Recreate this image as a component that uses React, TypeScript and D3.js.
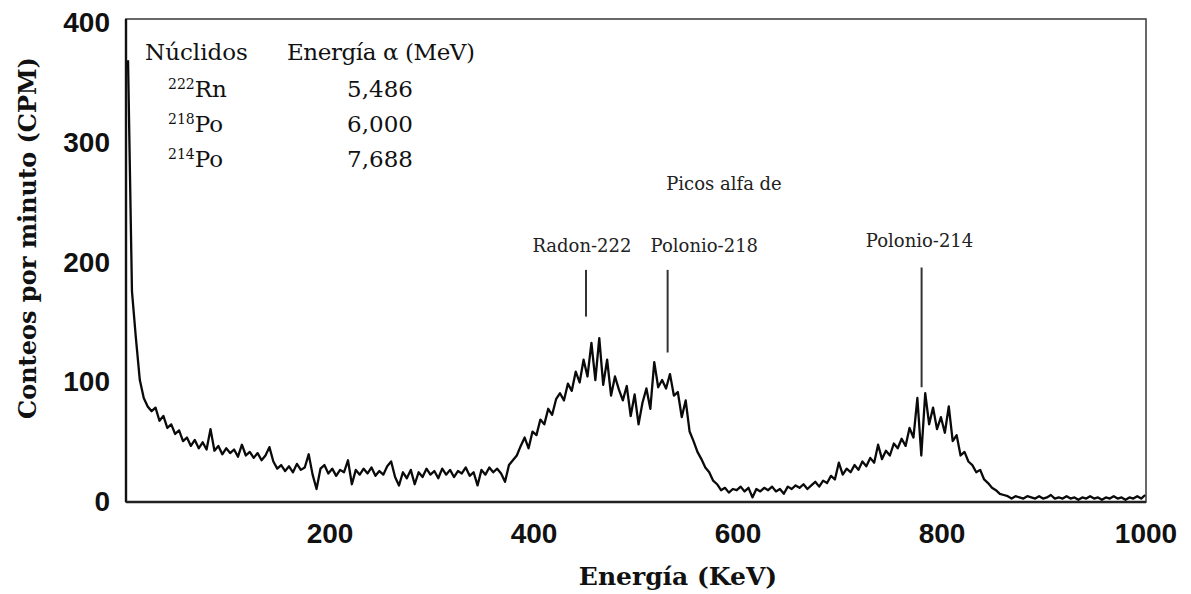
import React from 'react'
import * as d3 from 'd3'

// counts per channel (CPM), one value per channel
const counts = [
    368, 175, 136, 101, 86, 79, 75, 78, 67, 71,
    61, 64, 56, 59, 50, 53, 46, 51, 44, 49,
    43, 60, 42, 46, 39, 44, 40, 43, 37, 47,
    38, 41, 36, 40, 34, 38, 45, 33, 27, 30,
    25, 29, 24, 31, 26, 28, 39, 22, 10, 27,
    30, 23, 27, 21, 26, 24, 34, 14, 26, 22,
    27, 23, 28, 21, 25, 22, 29, 33, 20, 13,
    24, 19, 26, 14, 24, 20, 27, 22, 25, 19,
    27, 22, 26, 20, 25, 23, 28, 21, 24, 13,
    26, 22, 28, 24, 27, 23, 16, 30, 34, 38,
    46, 53, 44, 58, 55, 68, 64, 77, 72, 85,
    90, 84, 98, 92, 108, 99, 118, 104, 132, 101,
    136, 97, 118, 88, 104, 93, 84, 96, 71, 89,
    64, 82, 94, 77, 116, 95, 101, 94, 106, 88,
    91, 70, 84, 58, 50, 41, 35, 28, 24, 17,
    14, 9, 11, 7, 10, 9, 12, 8, 11, 3,
    10, 8, 11, 9, 12, 8, 10, 6, 12, 10,
    13, 11, 14, 10, 13, 16, 12, 17, 15, 21,
    18, 32, 22, 27, 24, 30, 26, 33, 29, 36,
    32, 47, 35, 42, 38, 48, 44, 52, 46, 61,
    53, 86, 38, 90, 64, 78, 60, 70, 57, 79,
    50, 55, 38, 41, 33, 30, 24, 26, 18, 15,
    11, 9, 6, 5, 4, 2, 4, 3, 2, 4,
    3, 2, 4, 2, 3, 5, 2, 3, 2, 4,
    2, 3, 1, 3, 2, 4, 2, 3, 1, 3,
    2, 4, 2, 3, 1, 3, 2, 4, 2, 5
]
const channelStart = 2     // keV of first channel
const channelWidth = 3.85  // keV per channel

const xTicks = [200, 400, 600, 800, 1000]
const yTicks = [0, 100, 200, 300, 400]

const nuclides = ['222', '218', '214']
const elements = ['Rn', 'Po', 'Po']
const alphaEnergies = ['5,486', '6,000', '7,688']

const peakLabels = ['Radon-222', 'Polonio-218', 'Polonio-214']
const peakLabelX = [447, 567, 778]     // keV
const peakLabelY = [208, 208, 212]     // CPM
const markerX = [451, 531, 780]        // keV
const markerTop = [193, 193, 195]      // CPM
const markerBottom = [154, 124, 95]    // CPM

const W = 1191, H = 594
const plot = { left: 126, right: 1146, top: 19, bottom: 502 }

const serif = "'DejaVu Serif', serif"
const sans = "'Liberation Sans', Arial, sans-serif"

const x = d3.scaleLinear().domain([0, 1000]).range([plot.left, plot.right])
const y = d3.scaleLinear().domain([0, 400]).range([501, 22])

const Spectrum = () => {
    const pts = counts.map((c, i) => [channelStart + i * channelWidth, c])
    const line = d3.line()
        .x(d => x(d[0]))
        .y(d => y(d[1]))
    return <path d={line(pts)} fill="none" stroke="#0a0a0a" strokeWidth={2.3} strokeLinejoin="round" />
}

const Frame = () => (
    <g>
        <rect x={plot.left} y={plot.top} width={plot.right - plot.left} height={plot.bottom - plot.top}
              fill="none" stroke="#444" strokeWidth={1.6} />
        <line x1={plot.left} x2={plot.left} y1={plot.top} y2={plot.bottom} stroke="#111" strokeWidth={2.4} />
        <line x1={plot.left} x2={plot.right} y1={plot.bottom} y2={plot.bottom} stroke="#222" strokeWidth={2.4} />
    </g>
)

const Axes = () => (
    <g fontFamily={sans} fontWeight="bold" fontSize={28} fill="#111">
        {yTicks.map(t =>
            <text key={'y' + t} x={110} y={y(t)} dy={10} textAnchor="end">{t}</text>
        )}
        {xTicks.map(t =>
            <text key={'x' + t} x={x(t)} y={543} textAnchor="middle">{t}</text>
        )}
        <text x={678} y={585} textAnchor="middle" fontFamily={serif} fontSize={25}>Energía (KeV)</text>
        <text transform="translate(36, 238) rotate(-90)" textAnchor="middle" fontFamily={serif} fontSize={24}>
            Conteos por minuto (CPM)
        </text>
    </g>
)

const Table = () => (
    <g fontFamily={serif} fontSize={23} fill="#111">
        <text x={145} y={60}>Núclidos</text>
        <text x={287} y={60} textLength={188}>Energía α (MeV)</text>
        {nuclides.map((n, i) =>
            <text key={n} x={168} y={97 + i * 35}>
                <tspan fontSize={14} dy={-8}>{n}</tspan>
                <tspan dy={8}>{elements[i]}</tspan>
            </text>
        )}
        {alphaEnergies.map((e, i) =>
            <text key={e} x={380} y={97 + i * 35} textAnchor="middle">{e}</text>
        )}
    </g>
)

const Peaks = () => (
    <g fontFamily={serif} fontSize={18} fill="#222">
        <text x={724} y={190} textAnchor="middle">Picos alfa de</text>
        {peakLabels.map((p, i) =>
            <text key={p} x={x(peakLabelX[i])} y={y(peakLabelY[i])} textAnchor="middle">{p}</text>
        )}
        {markerX.map((m, i) =>
            <line key={i} x1={x(m)} x2={x(m)} y1={y(markerTop[i])} y2={y(markerBottom[i])}
                  stroke="#333" strokeWidth={2} />
        )}
    </g>
)

export default function App() {
    return (
        <svg width={W} height={H} style={{ position: 'absolute', left: 0, top: 0, background: '#fff' }}>
            <rect width={W} height={H} fill="#fff" />
            <Frame />
            <Spectrum />
            <Axes />
            <Table />
            <Peaks />
        </svg>
    )
}
